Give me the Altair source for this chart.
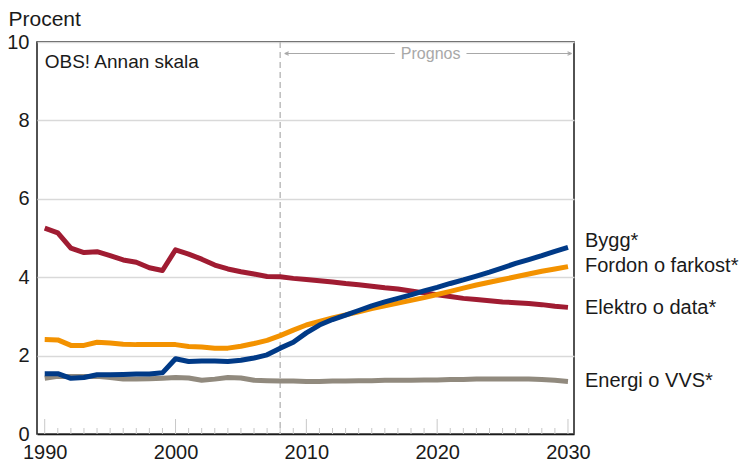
import altair as alt
import pandas as pd

# ---------------- data ----------------
years = list(range(1990, 2031))

elektro = [5.25, 5.13, 4.74, 4.63, 4.65, 4.55, 4.44, 4.38, 4.24, 4.17,
           4.70, 4.59, 4.46, 4.31, 4.21, 4.14, 4.08, 4.02, 4.01, 3.97,
           3.94, 3.91, 3.88, 3.84, 3.81, 3.77, 3.73, 3.70, 3.65, 3.60,
           3.55, 3.51, 3.46, 3.43, 3.40, 3.37, 3.35, 3.33, 3.30, 3.26, 3.23]
fordon = [2.41, 2.40, 2.26, 2.26, 2.34, 2.32, 2.29, 2.28, 2.28, 2.28,
          2.28, 2.23, 2.22, 2.19, 2.19, 2.24, 2.31, 2.39, 2.51, 2.65,
          2.78, 2.87, 2.96, 3.04, 3.12, 3.20, 3.27, 3.34, 3.41, 3.48,
          3.56, 3.64, 3.72, 3.80, 3.87, 3.94, 4.01, 4.08, 4.15, 4.21, 4.27]
bygg = [1.54, 1.54, 1.42, 1.44, 1.51, 1.51, 1.52, 1.53, 1.53, 1.56,
        1.92, 1.85, 1.86, 1.86, 1.85, 1.88, 1.94, 2.02, 2.19, 2.34,
        2.58, 2.78, 2.92, 3.03, 3.15, 3.27, 3.37, 3.46, 3.55, 3.65,
        3.74, 3.84, 3.93, 4.03, 4.13, 4.24, 4.35, 4.45, 4.55, 4.66, 4.76]
energi = [1.42, 1.47, 1.47, 1.47, 1.47, 1.44, 1.40, 1.40, 1.41, 1.42,
          1.44, 1.43, 1.37, 1.40, 1.44, 1.43, 1.37, 1.36, 1.35, 1.35,
          1.34, 1.34, 1.35, 1.35, 1.36, 1.36, 1.37, 1.37, 1.37, 1.38,
          1.38, 1.39, 1.39, 1.40, 1.40, 1.40, 1.40, 1.40, 1.39, 1.37, 1.34]

series_names = ["Energi o VVS*", "Elektro o data*", "Fordon o farkost*", "Bygg*"]
series_values = [energi, elektro, fordon, bygg]
series_colors = ["#918a7e", "#a01c32", "#f39200", "#003a87"]
label_values = [1.34, 3.22, 4.28, 4.93]

x_tick_labels = [1990, 2000, 2010, 2020, 2030]
y_tick_labels = [0, 2, 4, 6, 8, 10]
prognos_start = 2008
prognos_text = "Prognos"
note_text = "OBS! Annan skala"
y_title = "Procent"

# ---------------- layout ----------------
W, H = 537, 392
FONT = "Liberation Sans"
INK = "#1a1a1a"
xscale = alt.Scale(domain=[1989.41, 2030.46], nice=False, zero=False)
yscale = alt.Scale(domain=[0, 10], nice=False, zero=False)

rows = []
for name, vals in zip(series_names, series_values):
    for yr, v in zip(years, vals):
        rows.append({"year": yr, "value": v, "series": name})
df = pd.DataFrame(rows)

x_axis = alt.Axis(values=x_tick_labels, format="d", grid=False, ticks=False,
                  labelFontSize=20, labelPadding=8, labelColor=INK, labelFont=FONT,
                  domainColor=INK, domainWidth=1.5, title=None, labelFlush=False)
y_axis = alt.Axis(values=y_tick_labels, grid=True, gridColor="#d9d9d9", gridWidth=1.5,
                  ticks=False, domain=False, labelFontSize=20, labelPadding=8,
                  labelColor=INK, labelFont=FONT, title=None)


def X(field):
    return alt.X(field, scale=xscale, axis=x_axis)


def Y(field):
    return alt.Y(field, scale=yscale, axis=y_axis)


# year ticks rising from the bottom axis
tick_df = pd.DataFrame({"year": years})
minor_ticks = alt.Chart(tick_df).transform_filter("datum.year % 10 != 0").mark_rule(
    color="#c8c8c8", strokeWidth=1).encode(
    x=X("year:Q"), y=alt.value(H), y2=alt.value(H - 6))
major_ticks = alt.Chart(tick_df).transform_filter("datum.year % 10 == 0").mark_rule(
    color="#c8c8c8", strokeWidth=1).encode(
    x=X("year:Q"), y=alt.value(H), y2=alt.value(H - 15))

# dashed forecast divider
dash = alt.Chart(pd.DataFrame({"year": [prognos_start]})).mark_rule(
    color="#bdbdbd", strokeWidth=1.5, strokeDash=[6, 4]).encode(
    x=X("year:Q"), y=alt.value(0), y2=alt.value(H))

# Prognos arrow
ARROW = "#a8a8a8"
seg_df = pd.DataFrame({"year": [2008.35, 2022.24], "x2": [2016.76, 2030.27]})
arrow_segs = alt.Chart(seg_df).mark_rule(color=ARROW, strokeWidth=1).encode(
    x=X("year:Q"), x2="x2:Q", y=alt.value(11.5))
left_head = alt.Chart(pd.DataFrame({"year": [2008.35]})).mark_point(
    shape="M 0 0 L 1.6 -0.7 M 0 0 L 1.6 0.7", size=25, filled=False,
    color=ARROW, strokeWidth=1.2, opacity=1).encode(
    x=X("year:Q"), y=alt.value(11.5))
right_head = alt.Chart(pd.DataFrame({"year": [2030.27]})).mark_point(
    shape="M 0 0 L -1.6 -0.7 M 0 0 L -1.6 0.7", size=25, filled=False,
    color=ARROW, strokeWidth=1.2, opacity=1).encode(
    x=X("year:Q"), y=alt.value(11.5))
prognos = alt.Chart(pd.DataFrame({"year": [2019.5], "t": [prognos_text]})).mark_text(
    font=FONT, fontSize=16, color=ARROW, align="center", baseline="middle").encode(
    x=X("year:Q"), y=alt.value(11.5), text="t:N")

# series lines
line_layers = []
for name, col in zip(series_names, series_colors):
    line_layers.append(
        alt.Chart(df).transform_filter(alt.datum.series == name).mark_line(
            color=col, strokeWidth=5, strokeJoin="round").encode(
            x=X("year:Q"), y=Y("value:Q"))
    )

# right-hand labels
lab_df = pd.DataFrame({"series": series_names, "value": label_values})
labels = alt.Chart(lab_df).mark_text(
    font=FONT, fontSize=20, color=INK, align="left", baseline="middle").encode(
    x=alt.value(W + 11), y=Y("value:Q"), text="series:N")

# texts
note = alt.Chart(pd.DataFrame({"t": [note_text]})).mark_text(
    font=FONT, fontSize=19, color=INK, align="left", baseline="alphabetic").encode(
    x=alt.value(7.7), y=alt.value(25.8), text="t:N")
ytitle = alt.Chart(pd.DataFrame({"t": [y_title]})).mark_text(
    font=FONT, fontSize=21, color=INK, align="left", baseline="alphabetic").encode(
    x=alt.value(-28.5), y=alt.value(-16), text="t:N")

chart = alt.layer(
    minor_ticks, major_ticks, dash, arrow_segs, left_head, right_head, prognos,
    *line_layers, labels, note, ytitle
).properties(
    width=W, height=H,
    padding={"left": 29, "top": 34, "right": 166, "bottom": 28},
    autosize=alt.AutoSizeParams(type="none"),
).configure_view(
    stroke=INK, strokeWidth=1.5
)

chart.save("out.html", embed_options={"renderer": "svg", "actions": False})
